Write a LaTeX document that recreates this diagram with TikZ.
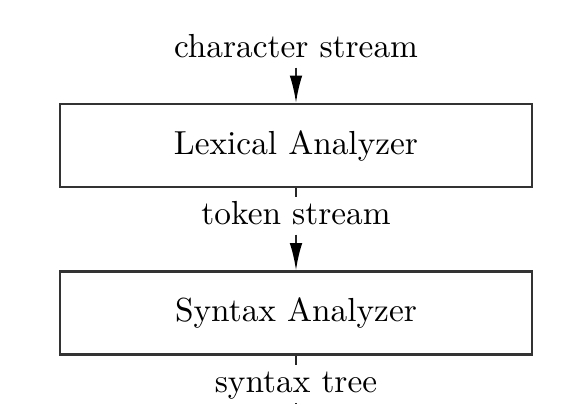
\documentclass[tikz,border=0pt]{standalone}
\usetikzlibrary{arrows.meta}
\begin{document}
\begin{tikzpicture}[x=0.3pt,y=-0.3pt,
  blk/.style={draw=black!80, line width=0.7pt, inner sep=0pt,
    minimum width=141.6pt, minimum height=24.9pt, font=\fontsize{10}{12}\selectfont},
  lbl/.style={inner sep=1pt, text height=7pt, text depth=2pt, anchor=base,
    font=\fontsize{10}{12}\selectfont},
  conn/.style={draw=black!85, line width=0.6pt},
  arr/.style={conn, -{Latex[length=8.2pt,width=3.8pt,color=black]}}]
\useasboundingbox (0,0) rectangle (584,404);
\node[lbl] (cs) at (296,57) {character stream};
\node[blk] (lex) at (296,145.5) {Lexical Analyzer};
\node[lbl] (ts) at (296,224) {token stream};
\node[blk] (syn) at (296,313) {Syntax Analyzer};
\node[lbl] (st) at (296,392.5) {syntax tree};
\coordinate (out) at (296,430);
\draw[arr] (cs) -- (lex);
\draw[conn] (lex) -- (ts);
\draw[arr] (ts) -- (syn);
\draw[conn] (syn) -- (st);
\draw[conn] (st) -- (out);
\end{tikzpicture}
\end{document}
